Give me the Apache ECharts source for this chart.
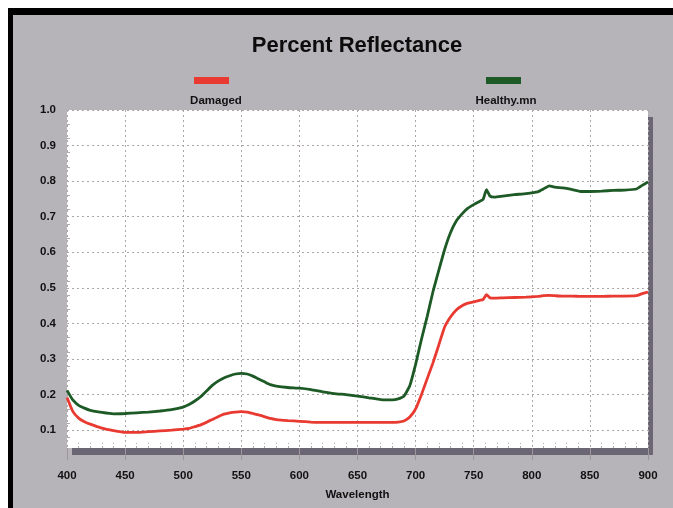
<!DOCTYPE html>
<html>
<head>
<meta charset="utf-8">
<script src="https://cdn.jsdelivr.net/npm/echarts@6/dist/echarts.min.js"></script>
<style>
  html, body { margin: 0; padding: 0; background: #ffffff; width: 673px; height: 508px; overflow: hidden; }
  #wrap { position: absolute; left: 8px; top: 8px; width: 665px; height: 500px; box-sizing: border-box;
          border-top: 7px solid #000; border-left: 5px solid #000; background: #b7b4b9; }
  #chart { width: 660px; height: 493px; }
</style>
</head>
<body>
<div id="wrap"><div id="chart"></div></div>
<script>
// ---- data ----
const wavelengths = [400,405,410,415,420,430,440,450,460,470,480,490,500,505,510,515,520,525,530,535,540,545,550,555,560,565,570,575,580,590,600,610,620,630,640,650,660,670,680,685,690,695,700,705,710,715,720,725,730,735,740,745,750,755,758,761,764,768,775,785,795,805,810,815,820,827,835,842,850,860,870,880,890,895,900];
const healthy = [0.212,0.185,0.170,0.162,0.156,0.150,0.146,0.147,0.149,0.151,0.154,0.158,0.165,0.172,0.182,0.194,0.210,0.226,0.238,0.247,0.253,0.258,0.260,0.258,0.252,0.244,0.236,0.228,0.224,0.220,0.218,0.214,0.208,0.203,0.200,0.196,0.191,0.186,0.185,0.188,0.196,0.225,0.285,0.355,0.420,0.490,0.550,0.608,0.655,0.688,0.708,0.724,0.734,0.743,0.748,0.776,0.758,0.755,0.758,0.762,0.765,0.770,0.778,0.787,0.783,0.781,0.776,0.771,0.771,0.772,0.774,0.775,0.778,0.788,0.798];
const damaged = [0.192,0.153,0.134,0.124,0.117,0.106,0.099,0.094,0.094,0.096,0.098,0.100,0.103,0.105,0.110,0.115,0.122,0.130,0.138,0.145,0.149,0.151,0.152,0.151,0.147,0.143,0.138,0.133,0.130,0.127,0.125,0.123,0.122,0.122,0.122,0.122,0.122,0.122,0.122,0.123,0.126,0.137,0.160,0.200,0.245,0.290,0.340,0.390,0.418,0.438,0.450,0.457,0.461,0.465,0.467,0.481,0.472,0.471,0.472,0.473,0.474,0.476,0.478,0.479,0.478,0.477,0.477,0.476,0.476,0.476,0.477,0.477,0.478,0.484,0.488];
const yTickValues = [0.1,0.2,0.3,0.4,0.5,0.6,0.7,0.8,0.9,1.0];
const seriesNames = ['Damaged', 'Healthy.mn'];
const titleText = 'Percent Reflectance';
const xAxisName = 'Wavelength';

const FONT = '"Liberation Sans", Arial, sans-serif';
const gridLine = { color: '#aca6a9', width: 1, type: [2, 3] };
const small = { fontFamily: FONT, fontSize: 11.5, fontWeight: 'bold', color: '#111' };

const chart = echarts.init(document.getElementById('chart'), null, { renderer: 'canvas' });
chart.setOption({
  backgroundColor: '#b7b4b9',
  animation: false,
  title: [
    { text: titleText, left: 339, top: 15, textAlign: 'center',
      textStyle: { fontFamily: FONT, fontSize: 22, fontWeight: 'bold', color: '#0c0c0c' } },
    { text: seriesNames[0], left: 198, top: 75, textAlign: 'center', textStyle: small },
    { text: seriesNames[1], left: 488, top: 75, textAlign: 'center', textStyle: small }
  ],
  legend: [
    { data: [seriesNames[0]], left: 181, top: 62, itemWidth: 35, itemHeight: 7, icon: 'rect',
      selectedMode: false, formatter: () => '', padding: 0, itemGap: 0 },
    { data: [seriesNames[1]], left: 473, top: 62, itemWidth: 35, itemHeight: 7, icon: 'rect',
      selectedMode: false, formatter: () => '', padding: 0, itemGap: 0 }
  ],
  grid: {
    left: 54, right: 25, top: 95, bottom: 60,
    show: true, backgroundColor: '#ffffff', borderWidth: 0,
    shadowColor: '#6b6673', shadowBlur: 0, shadowOffsetX: 5, shadowOffsetY: 7
  },
  xAxis: [
    {
      type: 'value', min: 400, max: 900, interval: 50,
      name: xAxisName, nameLocation: 'middle', nameGap: 41,
      nameTextStyle: small,
      axisLine: { show: false },
      axisTick: { show: true, length: 12, lineStyle: { color: '#9c979c' } },
      axisLabel: Object.assign({ margin: 22 }, small),
      splitLine: { show: true, lineStyle: gridLine }
    },
    {
      type: 'value', min: 400, max: 900, interval: 50, position: 'bottom',
      axisLine: { show: false },
      axisTick: { show: false, inside: true },
      minorTick: { show: true, splitNumber: 5, length: 5, lineStyle: { color: '#b0aaae', type: [2, 2] } },
      axisLabel: { show: false },
      splitLine: { show: false }
    }
  ],
  yAxis: {
    type: 'value', min: 0.05, max: 1.0,
    axisLine: { show: false },
    axisTick: { show: false, inside: true, customValues: yTickValues },
    minorTick: { show: true, splitNumber: 5, length: 3, lineStyle: { color: '#b0aaae' } },
    axisLabel: Object.assign({ customValues: yTickValues, margin: 11, formatter: v => v.toFixed(1) }, small),
    splitLine: { show: true, lineStyle: gridLine }
  },
  series: [
    { name: seriesNames[0], type: 'line', showSymbol: false, smooth: 0.15,
      itemStyle: { color: '#e83a30' }, lineStyle: { color: '#e83a30', width: 2.8 },
      data: wavelengths.map((w, i) => [w, damaged[i]]) },
    { name: seriesNames[1], type: 'line', showSymbol: false, smooth: 0.15,
      itemStyle: { color: '#1d5a26' }, lineStyle: { color: '#1d5a26', width: 2.8 },
      data: wavelengths.map((w, i) => [w, healthy[i]]) }
  ]
});
</script>
</body>
</html>
